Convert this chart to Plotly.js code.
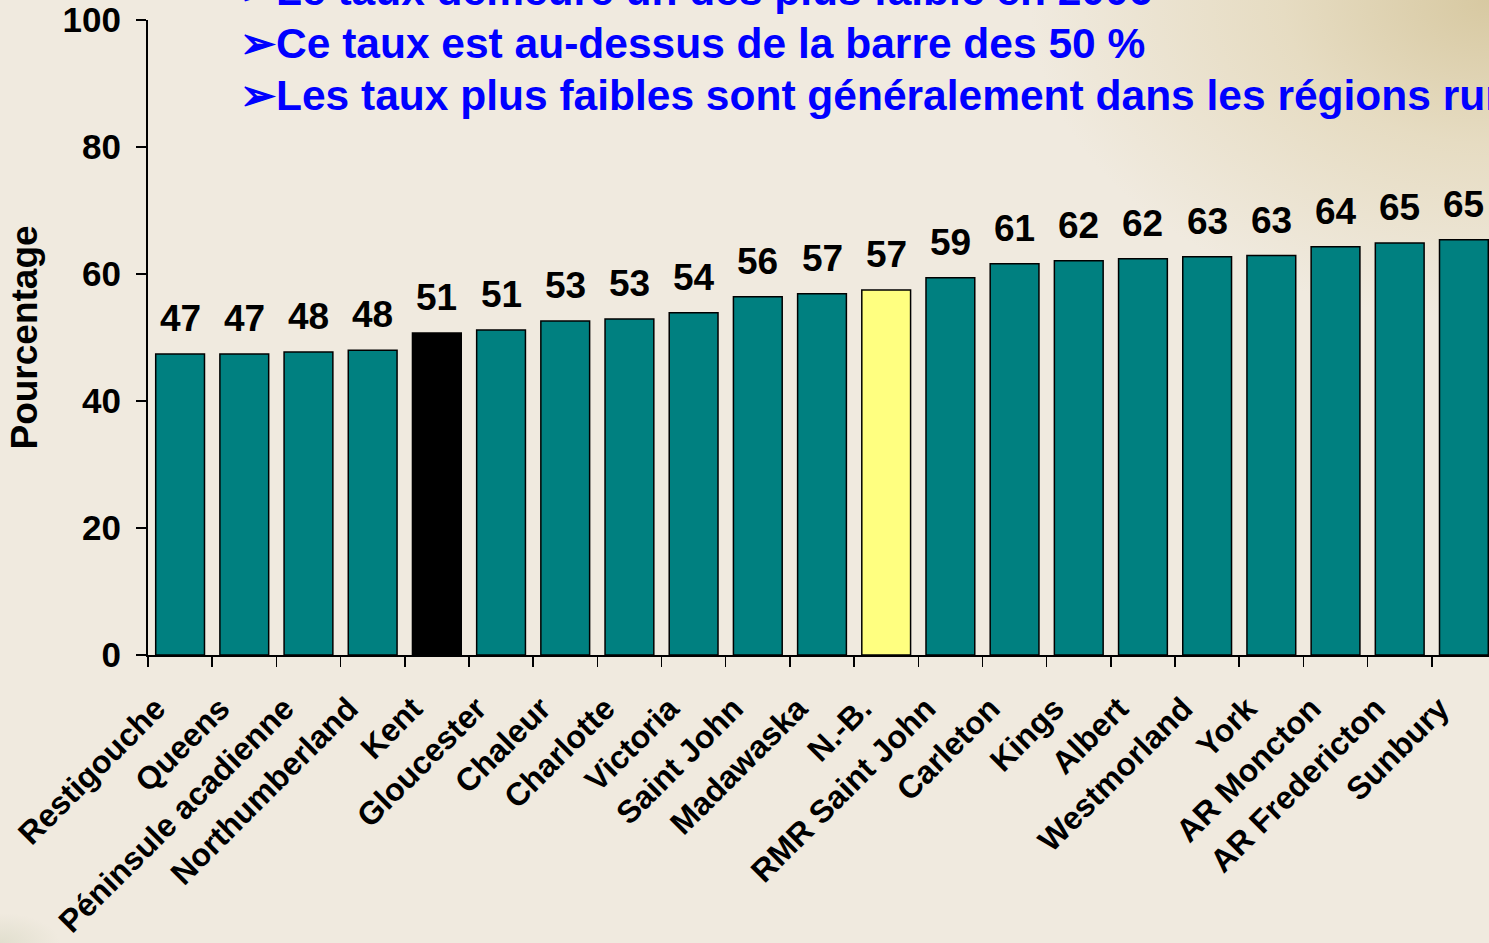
<!DOCTYPE html>
<html>
<head>
<meta charset="utf-8">
<script src="https://cdn.plot.ly/plotly-3.0.1.min.js"></script>
<style>
  html, body { margin: 0; padding: 0; width: 1489px; height: 943px; overflow: hidden; }
  body {
    background:
      radial-gradient(ellipse 460px 320px at 1489px 0px, rgba(214,199,158,0.95) 0%, rgba(226,214,182,0.7) 45%, rgba(240,234,223,0) 100%),
      radial-gradient(ellipse 60px 30px at 0px 943px, rgba(215,215,195,0.6) 0%, rgba(240,234,223,0) 100%),
      #F0EADF;
  }
  #chart { width: 1496px; height: 943px; }
</style>
</head>
<body>
<div id="chart"></div>
<script>
const categories = ["Restigouche", "Queens", "Péninsule acadienne", "Northumberland", "Kent", "Gloucester",
  "Chaleur", "Charlotte", "Victoria", "Saint John", "Madawaska", "N.-B.", "RMR Saint John", "Carleton",
  "Kings", "Albert", "Westmorland", "York", "AR Moncton", "AR Fredericton", "Sunbury"];
const values = [47.4, 47.4, 47.7, 48.0, 50.7, 51.2, 52.6, 52.9, 53.9, 56.4, 56.9, 57.5, 59.4, 61.6,
  62.1, 62.4, 62.7, 62.9, 64.3, 64.9, 65.4];
const valueLabels = ["47", "47", "48", "48", "51", "51", "53", "53", "54", "56", "57", "57", "59", "61",
  "62", "62", "63", "63", "64", "65", "65"];
const yTicks = [0, 20, 40, 60, 80, 100];
const yTitle = "Pourcentage";
const bulletLines = [
  "➢Le taux demeure un des plus faible en 2006",
  "➢Ce taux est au-dessus de la barre des 50 %",
  "➢Les taux plus faibles sont généralement dans les régions rurales"
];
const highlightBlack = "Kent";
const highlightYellow = "N.-B.";

const FONT = "Liberation Sans, Arial, sans-serif";
const colors = categories.map(c => c === highlightBlack ? "#000000" : (c === highlightYellow ? "#FFFF80" : "#008080"));

const trace = {
  type: "bar",
  x: categories,
  y: values,
  marker: { color: colors, line: { color: "#000000", width: 1.5 } },
  width: 0.76,
  hoverinfo: "x+y"
};

const labelAnnotations = categories.map((c, i) => ({
  x: c, y: values[i], xref: "x", yref: "y",
  text: valueLabels[i], showarrow: false,
  yanchor: "bottom", yshift: 13,
  font: { family: FONT, size: 37, color: "#000000", weight: "bold" }
}));

const bulletY = [1.046, 0.963, 0.881];
const bulletAnnotations = bulletLines.map((t, i) => ({
  x: 0.067, y: bulletY[i], xref: "paper", yref: "paper",
  xanchor: "left", yanchor: "middle",
  text: t, showarrow: false,
  font: { family: FONT, size: 42.5, color: "#0000FF", weight: "bold" }
}));

const layout = {
  width: 1496, height: 943,
  margin: { l: 148, r: 0, t: 20, b: 288, pad: 0 },
  paper_bgcolor: "rgba(0,0,0,0)",
  plot_bgcolor: "rgba(0,0,0,0)",
  showlegend: false,
  xaxis: {
    type: "category",
    range: [-0.5, 20.5],
    showline: true, linecolor: "#000000", linewidth: 2,
    ticks: "outside", ticklen: 10, tickwidth: 1.5, tickcolor: "#000000",
    tickson: "boundaries",
    tickangle: -45,
    ticklabelstandoff: 20,
    ticklabelshift: -24,
    tickfont: { family: FONT, size: 32, color: "#000000", weight: "bold" },
    showgrid: false, zeroline: false, automargin: false, fixedrange: true
  },
  yaxis: {
    range: [0, 100],
    tickvals: yTicks,
    showline: true, linecolor: "#000000", linewidth: 2,
    ticks: "outside", ticklen: 10, tickwidth: 1.5, tickcolor: "#000000",
    ticklabelstandoff: 8,
    tickfont: { family: FONT, size: 35, color: "#000000", weight: "bold" },
    showgrid: false, zeroline: false, automargin: false,
    title: { text: yTitle, standoff: 14, font: { family: FONT, size: 37, color: "#000000", weight: "bold" } }
  },
  annotations: labelAnnotations.concat(bulletAnnotations)
};

Plotly.newPlot("chart", [trace], layout, { displayModeBar: false, staticPlot: true });
</script>
</body>
</html>
